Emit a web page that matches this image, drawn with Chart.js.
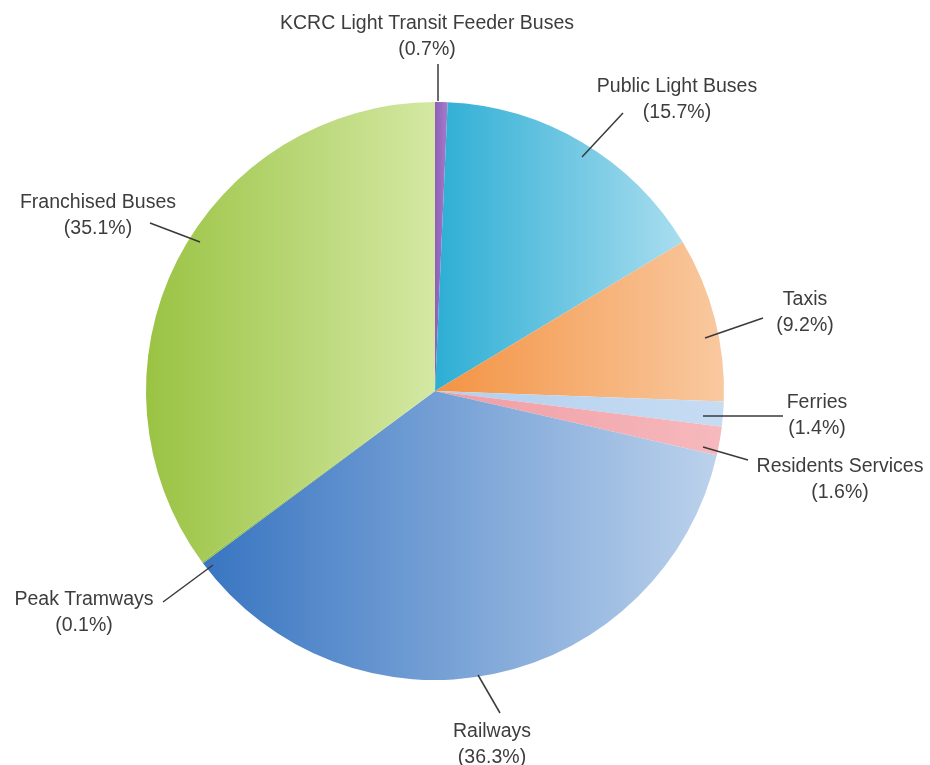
<!DOCTYPE html>
<html>
<head>
<meta charset="utf-8">
<script src="https://cdn.jsdelivr.net/npm/chart.js@4/dist/chart.umd.min.js"></script>
<style>
  html, body { margin: 0; padding: 0; background: #ffffff; }
  #wrap { width: 930px; height: 765px; }
</style>
</head>
<body>
<div id="wrap"><canvas id="pie" width="930" height="765"></canvas></div>
<script>
// Share of public transport passenger journeys by mode (%)
const categories = [
  'KCRC Light Transit Feeder Buses',
  'Public Light Buses',
  'Taxis',
  'Ferries',
  'Residents Services',
  'Railways',
  'Peak Tramways',
  'Franchised Buses'
];
const shares = [0.7, 15.7, 9.2, 1.4, 1.6, 36.3, 0.1, 35.1];

// Each slice shades from a deeper tone on its left to a paler one on its right
const darkTones  = ['#8f5fb8', '#2daed4', '#f39343', '#b3cfee', '#f09ca3', '#3875c1', '#8fbf48', '#9ac343'];
const lightTones = ['#a57ccb', '#a9ddef', '#f9c9a0', '#c6dcf3', '#f6b9bd', '#bcd2ec', '#a6cc60', '#d4e8a3'];

// Label anchors: [text x, first baseline, leader outer x, outer y, leader inner x, inner y]
const labelLayout = [
  [427,  29, 438,  64, 438, 101],
  [677,  92, 623, 113, 582, 157],
  [805, 305, 763, 318, 705, 338],
  [817, 408, 783, 416, 703, 416],
  [840, 472, 748, 460, 703, 447],
  [492, 737, 500, 713, 478, 675],
  [84,  605, 163, 602, 213, 565],
  [98,  208, 150, 223, 200, 242]
];

function sliceGradient(ctx) {
  const chart = ctx.chart;
  const area = chart.chartArea;
  if (!area) return darkTones[ctx.dataIndex];
  const i = ctx.dataIndex;
  const cx = (area.left + area.right) / 2;
  const cy = (area.top + area.bottom) / 2;
  const r = Math.min(area.right - area.left, area.bottom - area.top) / 2;
  const total = shares.reduce((a, b) => a + b, 0);
  let before = 0;
  for (let k = 0; k < i; k++) before += shares[k];
  const a0 = before / total * Math.PI * 2;
  const a1 = (before + shares[i]) / total * Math.PI * 2;
  // horizontal extent of the wedge (angles measured clockwise from 12 o'clock)
  let minX = cx, maxX = cx;
  const steps = 60;
  for (let s = 0; s <= steps; s++) {
    const a = a0 + (a1 - a0) * s / steps;
    const x = cx + r * Math.sin(a);
    if (x < minX) minX = x;
    if (x > maxX) maxX = x;
  }
  if (maxX - minX < 2) { minX -= 1; maxX += 1; }
  const g = chart.ctx.createLinearGradient(minX, cy, maxX, cy);
  g.addColorStop(0, darkTones[i]);
  g.addColorStop(1, lightTones[i]);
  return g;
}

const outsideLabels = {
  id: 'outsideLabels',
  afterDraw(chart) {
    const c = chart.ctx;
    c.save();
    c.strokeStyle = '#3a3a3a';
    c.lineWidth = 1.5;
    labelLayout.forEach((p) => {
      c.beginPath();
      c.moveTo(p[2], p[3]);
      c.lineTo(p[4], p[5]);
      c.stroke();
    });
    c.fillStyle = '#3d3d3d';
    c.font = '19.5px "Liberation Sans", Arial, sans-serif';
    c.textAlign = 'center';
    c.textBaseline = 'alphabetic';
    categories.forEach((name, i) => {
      const p = labelLayout[i];
      c.fillText(name, p[0], p[1]);
      c.fillText('(' + shares[i].toFixed(1) + '%)', p[0], p[1] + 26);
    });
    c.restore();
  }
};

new Chart(document.getElementById('pie'), {
  type: 'pie',
  data: {
    labels: categories,
    datasets: [{
      data: shares,
      backgroundColor: sliceGradient,
      borderWidth: 0
    }]
  },
  options: {
    responsive: false,
    devicePixelRatio: 1,
    animation: false,
    layout: { padding: { left: 146, right: 206, top: 102, bottom: 85 } },
    plugins: {
      legend: { display: false },
      tooltip: { enabled: false }
    }
  },
  plugins: [outsideLabels]
});
</script>
</body>
</html>
